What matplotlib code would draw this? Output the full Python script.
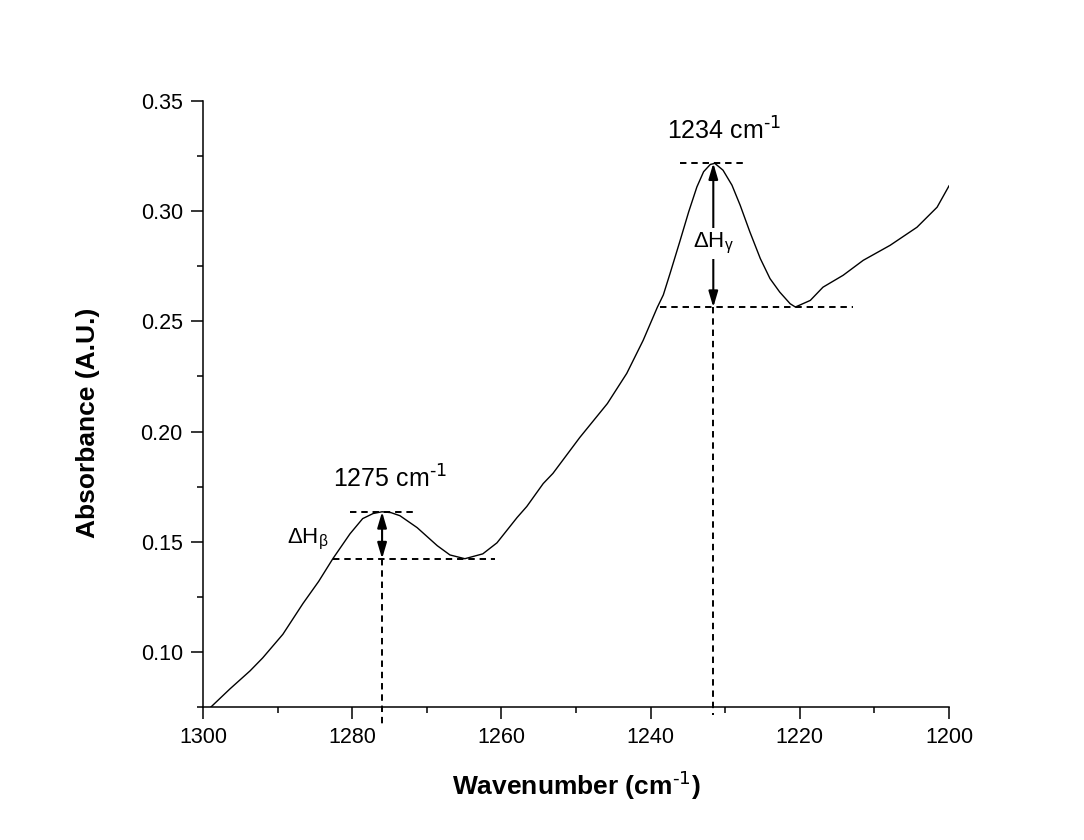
import numpy as np
import matplotlib.pyplot as plt
from matplotlib.ticker import MultipleLocator

plt.rcParams['font.family'] = ['Liberation Sans', 'DejaVu Sans']
plt.rcParams['mathtext.default'] = 'regular'

# spettro
wavenumber = [1300.0, 1299.1, 1296.4, 1293.7, 1292.0, 1289.3, 1286.6, 1284.5, 1282.6,
              1280.3, 1278.6, 1277.2, 1276.0, 1274.8, 1273.6, 1271.3, 1268.6, 1266.9,
              1264.9, 1262.5, 1260.6, 1257.9, 1256.6, 1254.4, 1253.1, 1249.5, 1245.8,
              1243.2, 1241.0, 1239.1, 1238.3, 1237.4, 1236.1, 1234.9, 1233.8, 1232.9,
              1232.0, 1231.4, 1230.3, 1229.1, 1228.0, 1226.7, 1225.3, 1224.0, 1222.7,
              1221.3, 1220.6, 1218.6, 1216.9, 1214.2, 1211.5, 1207.9, 1204.3, 1201.6,
              1200.0]
absorbance = [0.0720, 0.0745, 0.0832, 0.0914, 0.0973, 0.1080, 0.1220, 0.1320, 0.1423,
              0.1536, 0.1605, 0.1628, 0.1636, 0.1632, 0.1618, 0.1564, 0.1482, 0.1440,
              0.1423, 0.1445, 0.1495, 0.1610, 0.1660, 0.1764, 0.1810, 0.1973, 0.2127,
              0.2264, 0.2414, 0.2564, 0.2620, 0.2717, 0.2861, 0.2997, 0.3110, 0.3179,
              0.3212, 0.3217, 0.3186, 0.3118, 0.3027, 0.2906, 0.2785, 0.2694, 0.2633,
              0.2580, 0.2565, 0.2595, 0.2655, 0.2709, 0.2777, 0.2845, 0.2927, 0.3018,
              0.3115]

# picchi: posizione, massimo, linea di base, estensioni delle linee tratteggiate
peak_x = [1276.0, 1231.6]
peak_top = [0.1636, 0.3218]
peak_base = [0.1423, 0.2564]
top_span = [(1280.3, 1271.8), (1236.1, 1227.4)]
base_span = [(1282.6, 1260.9), (1238.7, 1212.9)]
drop_end = [0.0655, 0.0714]
peak_labels = [r'1275 cm$^{\text{-1}}$', r'1234 cm$^{\text{-1}}$']
label_pos = [(1282.6, 0.1745), (1237.8, 0.3323)]
dh_labels = ['ΔH$_{β}$', 'ΔH$_{γ}$']
dh_pos = [(1288.7, 0.1491), (1234.3, 0.2836)]

fig = plt.figure(figsize=(10.84, 8.4), dpi=100)
ax = fig.add_axes([0.1873, 0.1583, 0.6882, 0.7215])

ax.plot(wavenumber, absorbance, color='black', lw=1.0)

dash = dict(color='black', lw=1.4, ls=(0, (3.3, 2.5)))
for i in range(2):
    ax.plot(top_span[i], [peak_top[i]] * 2, **dash)
    ax.plot(base_span[i], [peak_base[i]] * 2, **dash)
    ax.plot([peak_x[i]] * 2, [peak_base[i], drop_end[i]], clip_on=False, **dash)
    ax.annotate('', xy=(peak_x[i], peak_base[i]), xytext=(peak_x[i], peak_top[i]),
                arrowprops=dict(arrowstyle='<|-|>,head_length=0.95,head_width=0.28',
                                color='black', lw=1.5, shrinkA=0, shrinkB=0))
    ax.text(label_pos[i][0], label_pos[i][1], peak_labels[i], fontsize=18,
            ha='left', va='baseline')
    ax.text(dh_pos[i][0], dh_pos[i][1], dh_labels[i], fontsize=16,
            ha='left', va='baseline', zorder=5,
            bbox=dict(facecolor='white', edgecolor='none', pad=2))

ax.set_xlim(1300, 1200)
ax.set_ylim(0.075, 0.35)
ax.xaxis.set_major_locator(MultipleLocator(20))
ax.xaxis.set_minor_locator(MultipleLocator(10))
ax.yaxis.set_major_locator(MultipleLocator(0.05))
ax.yaxis.set_minor_locator(MultipleLocator(0.025))
ax.yaxis.set_major_formatter(plt.FormatStrFormatter('%.2f'))

for s in ['top', 'right']:
    ax.spines[s].set_visible(False)
for s in ['left', 'bottom']:
    ax.spines[s].set_linewidth(1.1)

ax.tick_params(which='major', direction='out', length=8.6, width=1.1,
               labelsize=15.5, pad=6)
ax.tick_params(which='minor', direction='out', length=4.5, width=1.1)

ax.set_xlabel(r'Wavenumber (cm$^{\text{-1}}$)', fontsize=19, fontweight='bold')
ax.set_ylabel('Absorbance (A.U.)', fontsize=19, fontweight='bold')
ax.xaxis.set_label_coords(0.5, -0.129)
ax.xaxis.label.set_va('center')
ax.yaxis.set_label_coords(-0.154, 0.469)
ax.yaxis.label.set_va('center')

fig.savefig('out.png', dpi=100)
